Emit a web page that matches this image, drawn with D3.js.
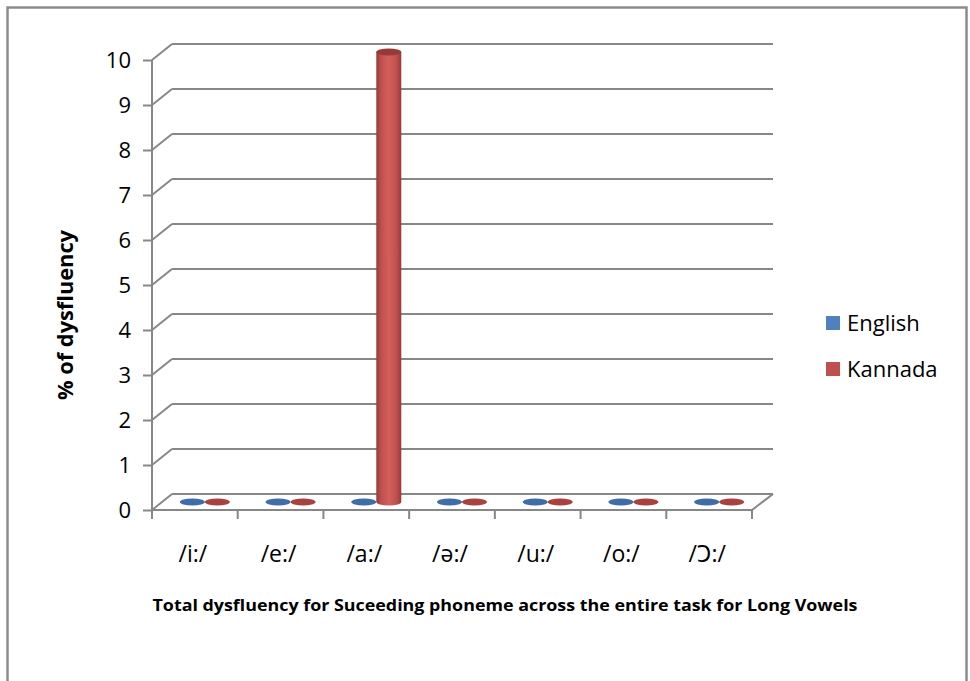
<!DOCTYPE html>
<html>
<head>
<meta charset="utf-8">
<script src="https://cdn.jsdelivr.net/npm/d3@7/dist/d3.min.js"></script>
<style>
  html, body { margin: 0; padding: 0; background: #fff; }
  svg { display: block; font-family: "Open Sans", "Noto Sans", sans-serif; }
</style>
</head>
<body>
<svg id="chart" width="970" height="681"></svg>
<script>
// Phonemes on the category axis
const categories = ["/i:/", "/e:/", "/a:/", "/ə:/", "/u:/", "/o:/", "/Ɔ:/"];
// Percent of dysfluency per language
const english = [0, 0, 0, 0, 0, 0, 0];
const kannada = [0, 0, 10, 0, 0, 0, 0];
const seriesNames = ["English", "Kannada"];
const yTicks = [0, 1, 2, 3, 4, 5, 6, 7, 8, 9, 10];
const chartTitle = "Total  dysfluency for Suceeding phoneme across the entire task for Long Vowels";
const yTitle = "% of dysfluency";

const seriesData = [english, kannada];
const colors = {
  English: { base: "#4F81BD", dark: "#35609A", light: "#6E9AD0", cap: "#3F6DA8" },
  Kannada: { base: "#C0504D", dark: "#973A37", light: "#D4605D", cap: "#A8423F" }
};

const svg = d3.select("#chart");

// outer frame
svg.append("rect")
  .attr("x", 7.5).attr("y", 7.5)
  .attr("width", 959).attr("height", 700)
  .attr("fill", "none").attr("stroke", "#8c8c8c").attr("stroke-width", 2.5);

// plot geometry: front plane and depth offset of the back wall
const x0 = 152, x1 = 752, yBottom = 510, yTop = 60;
const depthX = 20, depthY = -16;

const x = d3.scaleBand().domain(categories).range([x0, x1]).padding(0);
const y = d3.scaleLinear().domain([0, 10]).range([yBottom, yTop]);

const gridColor = "#878787";
const grid = svg.append("g");

// back-wall gridlines and their diagonal connectors to the front axis
yTicks.forEach(t => {
  const yy = y(t);
  grid.append("line")
    .attr("x1", x0 + depthX).attr("x2", x1 + depthX + 1)
    .attr("y1", yy + depthY).attr("y2", yy + depthY)
    .attr("stroke", gridColor).attr("stroke-width", 2);
  grid.append("line")
    .attr("x1", x0).attr("y1", yy)
    .attr("x2", x0 + depthX).attr("y2", yy + depthY)
    .attr("stroke", gridColor).attr("stroke-width", 2);
});

// floor: front edge and right edge
grid.append("line")
  .attr("x1", x0).attr("x2", x1).attr("y1", yBottom).attr("y2", yBottom)
  .attr("stroke", gridColor).attr("stroke-width", 2);
grid.append("line")
  .attr("x1", x1).attr("y1", yBottom)
  .attr("x2", x1 + depthX + 1).attr("y2", yBottom + depthY)
  .attr("stroke", gridColor).attr("stroke-width", 2);

// value axis (front left edge) with ticks and labels
const yAxis = d3.axisLeft(y).tickValues(yTicks).tickSize(9).tickPadding(12).tickFormat(d3.format("d"));
const yg = svg.append("g").attr("transform", `translate(${x0},0)`).call(yAxis);
yg.select(".domain").attr("stroke", gridColor).attr("stroke-width", 2)
  .attr("d", `M0,${yTop}V${yBottom}`);
yg.selectAll(".tick line").attr("stroke", gridColor).attr("stroke-width", 2);
yg.selectAll(".tick text")
  .attr("fill", "#000").attr("font-size", 22)
  .attr("font-family", "'Open Sans', sans-serif");

// category axis ticks below the floor front edge
const boundaries = categories.map(c => x(c)).concat([x1]);
svg.append("g").selectAll("line").data(boundaries).join("line")
  .attr("x1", d => d).attr("x2", d => d)
  .attr("y1", yBottom).attr("y2", yBottom + 9)
  .attr("stroke", gridColor).attr("stroke-width", 2);

svg.append("g").selectAll("text").data(categories).join("text")
  .attr("x", d => x(d) + x.bandwidth() / 2 - 2)
  .attr("y", 562)
  .attr("text-anchor", "middle")
  .attr("font-size", 23)
  .attr("fill", "#000")
  .text(d => d);

// gradients for the cylinders
const defs = svg.append("defs");
seriesNames.forEach(name => {
  const c = colors[name];
  const g = defs.append("linearGradient").attr("id", "grad-" + name)
    .attr("x1", "0%").attr("x2", "100%").attr("y1", "0%").attr("y2", "0%");
  g.append("stop").attr("offset", "0%").attr("stop-color", c.dark);
  g.append("stop").attr("offset", "20%").attr("stop-color", c.base);
  g.append("stop").attr("offset", "50%").attr("stop-color", c.light);
  g.append("stop").attr("offset", "80%").attr("stop-color", c.base);
  g.append("stop").attr("offset", "100%").attr("stop-color", c.dark);
});

// cylinders, placed at mid depth
const rx = 12.5, ry = 3.5;
const barsG = svg.append("g");
categories.forEach((cat, i) => {
  seriesNames.forEach((name, s) => {
    const v = seriesData[s][i];
    const cx = x(cat) + x.bandwidth() / 2 + depthX / 2 + (s === 0 ? -rx : rx);
    const yb = y(0) + depthY / 2;
    const yt = y(v) + depthY / 2;
    const c = colors[name];
    const g = barsG.append("g");
    if (v > 0) {
      g.append("path")
        .attr("d", `M${cx - rx},${yt} V${yb} A${rx},${ry} 0 0 0 ${cx + rx},${yb} V${yt} Z`)
        .attr("fill", `url(#grad-${name})`);
    }
    g.append("ellipse")
      .attr("cx", cx).attr("cy", yt)
      .attr("rx", rx).attr("ry", ry)
      .attr("fill", v > 0 ? c.dark : c.cap);
  });
});

// legend
const legend = svg.append("g");
seriesNames.forEach((name, i) => {
  const ly = 323 + i * 46;
  legend.append("rect")
    .attr("x", 826).attr("y", ly - 7).attr("width", 14).attr("height", 14)
    .attr("fill", colors[name].base);
  legend.append("text")
    .attr("x", 847).attr("y", ly + 8)
    .attr("font-size", 22).attr("fill", "#000")
    .text(name);
});

// value axis title
svg.append("text")
  .attr("transform", "translate(73,315) rotate(-90)")
  .attr("text-anchor", "middle")
  .attr("font-size", 21).attr("font-weight", "bold").attr("fill", "#000")
  .attr("textLength", 170).attr("lengthAdjust", "spacingAndGlyphs")
  .text(yTitle);

// chart caption
svg.append("text")
  .attr("x", 505).attr("y", 611)
  .attr("text-anchor", "middle")
  .attr("font-size", 16).attr("font-weight", "bold").attr("fill", "#000")
  .attr("textLength", 705).attr("lengthAdjust", "spacingAndGlyphs")
  .text(chartTitle);
</script>
</body>
</html>
